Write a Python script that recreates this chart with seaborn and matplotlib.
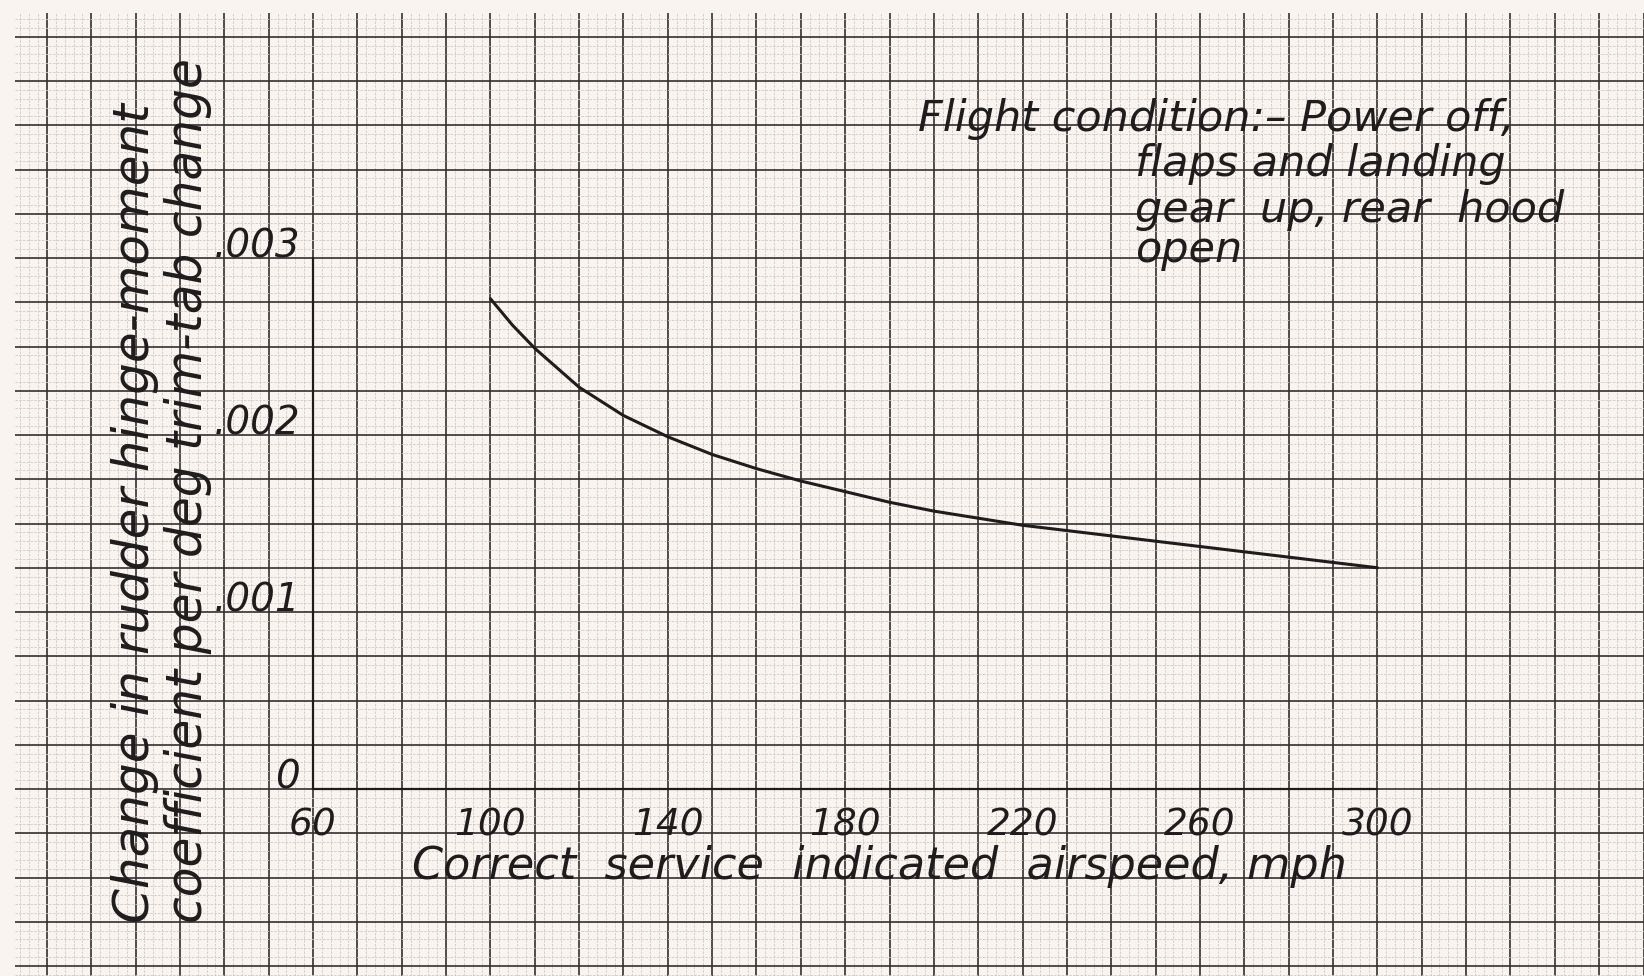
import numpy as np
import pandas as pd
import seaborn as sns
import matplotlib
matplotlib.use('Agg')
from matplotlib import pyplot as plt
from matplotlib.ticker import MultipleLocator

# Data
airspeed = [100, 105, 110, 115, 120, 130, 140, 150, 160, 170, 180, 190, 200,
            210, 220, 230, 240, 250, 260, 270, 280, 290, 300]
hinge_coef = [0.00277, 0.00262, 0.00249, 0.00238, 0.00227, 0.00211, 0.00199,
              0.00189, 0.00181, 0.00174, 0.00168, 0.00162, 0.00157, 0.00153,
              0.00149, 0.00146, 0.00143, 0.00140, 0.00137, 0.00134, 0.00131,
              0.00128, 0.00125]

x_ticks = [60, 100, 140, 180, 220, 260, 300]
y_ticks = [0, 0.001, 0.002, 0.003]
y_tick_labels = ['0', '.001', '.002', '.003']

x_title = 'Correct  service  indicated  airspeed, mph'
y_title_1 = 'Change in rudder hinge-moment'
y_title_2 = 'coefficient per deg trim-tab change'
note_lines = ['Flight condition:\u2013 Power off,',
              'flaps and landing',
              'gear  up, rear  hood',
              'open']

paper = '#f9f4f0'
ink = '#1e1c1c'

sns.set_theme(style='white', rc={'axes.facecolor': paper, 'figure.facecolor': paper})
plt.rcParams['font.family'] = ['DejaVu Sans']

W, H = 1644, 976
fig = plt.figure(figsize=(W / 100, H / 100), dpi=100)
# axes cover the printed graph paper area
left_px, top_px = 15, 13
ax = fig.add_axes([left_px / W, 0, (W - left_px) / W, (H - top_px) / H])

# pixel -> data scale of the paper (origin 60 mph / 0 at px 313, 789)
px_per_mph = 4.435
px_per_unit = 177000.0
ax.set_xlim(60 + (left_px - 313) / px_per_mph, 60 + (W - 313) / px_per_mph)
ax.set_ylim((789 - H) / px_per_unit, (789 - top_px) / px_per_unit)

ax.xaxis.set_major_locator(MultipleLocator(10))
ax.xaxis.set_minor_locator(MultipleLocator(2))
ax.yaxis.set_major_locator(MultipleLocator(0.00025))
ax.yaxis.set_minor_locator(MultipleLocator(0.00005))
ax.grid(which='minor', color='#d0c9c4', linewidth=0.6, linestyle=(0, (3, 1.5)))
ax.grid(which='major', color='#34302f', linewidth=1.2)
ax.set_axisbelow(True)
ax.tick_params(which='both', length=0, labelbottom=False, labelleft=False)
for s in ax.spines.values():
    s.set_visible(False)

# heavier axis lines from the origin
ax.plot([60, 300], [0, 0], color=ink, lw=1.6, zorder=2)
ax.plot([60, 60], [0, 0.003], color=ink, lw=1.6, zorder=2)

df = pd.DataFrame({'airspeed': airspeed, 'coef': hinge_coef})
sns.lineplot(data=df, x='airspeed', y='coef', color=ink, lw=2.2, ax=ax, zorder=3)
ax.set_xlabel('')
ax.set_ylabel('')

txt = dict(color=ink, style='italic', zorder=4)
for v in x_ticks:
    ax.text(v, -0.00026, str(v), ha='center', va='baseline', fontsize=27, **txt)
for v, lab in zip(y_ticks, y_tick_labels):
    ax.text(57.1, v + 0.000005, lab, ha='right', va='baseline', fontsize=28, **txt)

ax.text(82.3, -0.000508, x_title, ha='left', va='baseline', fontsize=32, **txt)
ax.text(19.9, -0.000757, y_title_1, rotation=90, ha='center', va='bottom', fontsize=36, **txt)
ax.text(31.8, -0.000757, y_title_2, rotation=90, ha='center', va='bottom', fontsize=35, **txt)

ax.text(196.4, 0.003718, note_lines[0], ha='left', va='baseline', fontsize=31, **txt)
for line, yv in zip(note_lines[1:], [0.003465, 0.003205, 0.00298]):
    ax.text(245.3, yv, line, ha='left', va='baseline', fontsize=31, **txt)

fig.savefig('out.png', dpi=100, facecolor=paper)
